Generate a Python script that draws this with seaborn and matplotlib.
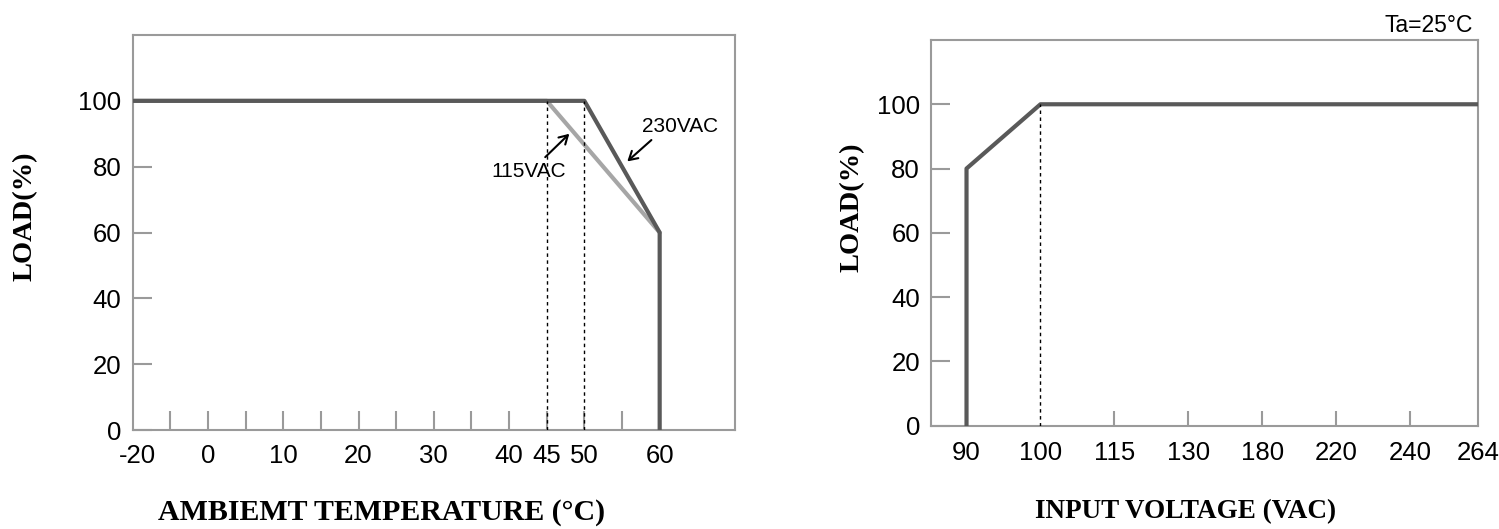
import numpy as np
import matplotlib
matplotlib.use("Agg")
import matplotlib.pyplot as plt
import matplotlib.transforms as mtransforms
import seaborn as sns
import pandas as pd

# derating curve: load vs ambient temperature
temp_230 = [-20, 50, 60, 60]
load_230 = [100, 100, 60, 0]
temp_115 = [-20, 45, 60]
load_115 = [100, 100, 60]
temp_dashed = [45, 50]
temp_ticks = [-20, 0, 10, 20, 30, 40, 45, 50, 60]
temp_marks = list(range(-5, 65, 5))

# derating curve: load vs input voltage
volt = [90, 90, 100, 264]
load_volt = [0, 80, 100, 100]
volt_dashed = 100
volt_ticks = [90, 100, 115, 130, 180, 220, 240, 264]
volt_marks = [115, 130, 180, 220, 240]

load_ticks = [0, 20, 40, 60, 80, 100]

dark = "#595959"
light = "#a6a6a6"
frame = "#9a9a9a"

sns.set_style("white")
sans = ["Liberation Sans Narrow", "Liberation Sans", "DejaVu Sans"]
serif = ["Liberation Serif", "DejaVu Serif"]
plt.rcParams["font.family"] = sans
plt.rcParams["text.color"] = "black"

fig = plt.figure(figsize=(14.99, 5.29), dpi=100)
ax1 = fig.add_axes([0.0885, 0.1871, 0.4018, 0.7467])
ax2 = fig.add_axes([0.6211, 0.1953, 0.3647, 0.7291])

# broken temperature axis: -20 sits at the left edge
t_br = [-20, -5, 70]
t_pos = [-10, -5, 70]
ax1.set_xscale("function", functions=(lambda x: np.interp(x, t_br, t_pos),
                                      lambda x: np.interp(x, t_pos, t_br)))

# voltage axis: evenly spaced labels
v_br = [85] + volt_ticks
v_pos = [-0.5, 0, 1, 2, 3, 4, 5, 6, 6.915]
ax2.set_xscale("function", functions=(lambda x: np.interp(x, v_br, v_pos),
                                      lambda x: np.interp(x, v_pos, v_br)))

df115 = pd.DataFrame({"t": temp_115, "load": load_115})
df230 = pd.DataFrame({"t": temp_230, "load": load_230})
dfv = pd.DataFrame({"v": volt, "load": load_volt})

for t in temp_dashed:
    ax1.plot([t, t], [0, 100], color="black", lw=1, ls=(0, (2.5, 2.5)), zorder=5)
sns.lineplot(data=df115, x="t", y="load", sort=False, estimator=None,
             color=light, lw=3, ax=ax1, zorder=3)
sns.lineplot(data=df230, x="t", y="load", sort=False, estimator=None,
             color=dark, lw=3, ax=ax1, zorder=4)

ax2.plot([volt_dashed, volt_dashed], [0, 100], color="black", lw=1,
         ls=(0, (2.5, 2.5)), zorder=5)
sns.lineplot(data=dfv, x="v", y="load", sort=False, estimator=None,
             color=dark, lw=3, ax=ax2, zorder=4)

ax1.set_xlim(-20, 70)
ax1.set_ylim(0, 120)
ax2.set_xlim(85.2, 264)
ax2.set_ylim(0, 120)

for ax in (ax1, ax2):
    ax.set_xlabel("")
    ax.set_ylabel("")
    for s in ax.spines.values():
        s.set_color(frame)
        s.set_linewidth(1.5)
    ax.set_yticks(load_ticks)
    ax.tick_params(axis="y", left=True, direction="in", length=14, width=1.5,
                   color=frame, labelsize=18.5, labelcolor="black", pad=8)
    ax.xaxis.remove_overlapping_locs = False

ax1.set_xticks(temp_ticks)
ax1.set_xticklabels([str(t) for t in temp_ticks])
ax1.set_xticks(temp_marks, minor=True)
ax1.tick_params(axis="x", which="major", bottom=True, length=0, labelsize=18.5,
                labelcolor="black", pad=10)
ax1.tick_params(axis="x", which="minor", bottom=True, direction="in", length=14,
                width=1.5, color=frame)
offset = mtransforms.ScaledTranslation(4.5 / 100, 0, fig.dpi_scale_trans)
first = ax1.get_xticklabels()[0]
first.set_transform(first.get_transform() + offset)

ax2.set_xticks(volt_ticks)
ax2.set_xticklabels([str(v) for v in volt_ticks])
ax2.set_xticks(volt_marks, minor=True)
ax2.tick_params(axis="x", which="major", bottom=True, length=0,
                labelsize=18.5, labelcolor="black", pad=11)
ax2.tick_params(axis="x", which="minor", bottom=True, direction="in", length=11,
                width=1.5, color=frame)

for lab in ax1.get_xticklabels() + ax2.get_xticklabels() + ax1.get_yticklabels() + ax2.get_yticklabels():
    lab.set_family(sans)

arrow = dict(arrowstyle="->,head_length=0.6,head_width=0.35", color="black",
             lw=1.5, shrinkA=0, shrinkB=0)
ax1.annotate("", xy=(55.7, 81.6), xytext=(58.9, 88.1), arrowprops=arrow)
ax1.annotate("", xy=(48.0, 90.0), xytext=(44.8, 82.9), arrowprops=arrow)
ax1.text(62.7, 92.2, "230VAC", ha="center", va="center", fontsize=15, family=sans)
ax1.text(42.6, 78.5, "115VAC", ha="center", va="center", fontsize=15, family=sans)

fig.text(25 / 1499, 1 - 216.7 / 529, "LOAD(%)", rotation=90, ha="center",
         va="center", fontsize=20.5, fontweight="bold", family=serif)
fig.text(852 / 1499, 1 - 207 / 529, "LOAD(%)", rotation=90, ha="center",
         va="center", fontsize=20.5, fontweight="bold", family=serif)
fig.text(382 / 1499, 1 - 512 / 529, "AMBIEMT TEMPERATURE (°C)", ha="center",
         va="center", fontsize=21.5, fontweight="bold", family=serif)
fig.text(1186 / 1499, 1 - 512 / 529, "INPUT VOLTAGE (VAC)", ha="center",
         va="center", fontsize=19.5, fontweight="bold", family=serif)
fig.text(1472.7 / 1499, 1 - 25 / 529, "Ta=25°C", ha="right", va="center",
         fontsize=16.5, family=sans)

fig.savefig("out.png", dpi=100)
